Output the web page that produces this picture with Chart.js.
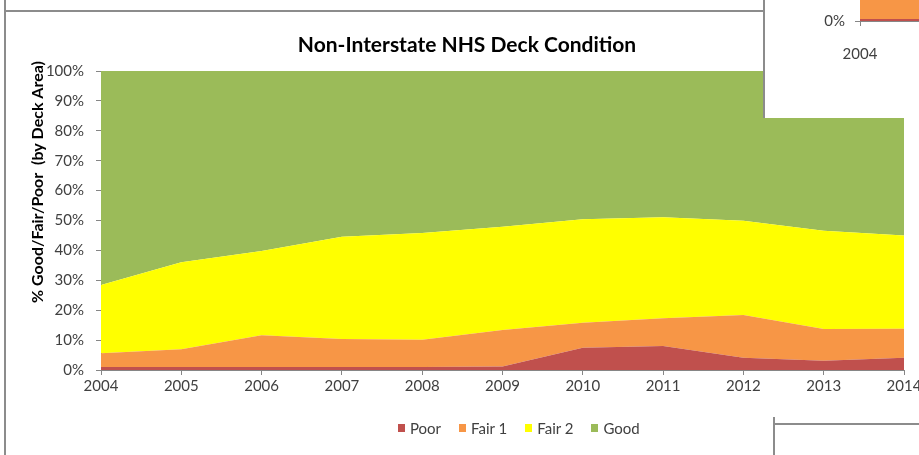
<!DOCTYPE html>
<html>
<head>
<meta charset="utf-8">
<title>Non-Interstate NHS Deck Condition</title>
<script src="https://cdn.jsdelivr.net/npm/chart.js@4"></script>
<style>
  html, body { margin: 0; padding: 0; background: #fff; overflow: hidden; }
  #page { position: relative; width: 919px; height: 455px; overflow: hidden; font-family: Lato, sans-serif; }
  #deckChart { position: absolute; left: 0; top: 0; }
  .rule { position: absolute; background: #8c8c8c; }
  #insetBox { position: absolute; left: 763px; top: 0; width: 156px; height: 118px; background: #fff;
              border-left: 2px solid #8c8c8c; overflow: hidden; }
  #insetChart { position: absolute; left: 0; top: -300px; }
  #cornerBox { position: absolute; left: 773px; top: 423px; width: 146px; height: 32px; background: #fff;
               border-top: 2px solid #8c8c8c; }
  #legend { position: absolute; left: 398px; top: 419px; display: flex; align-items: center;
            font-size: 15px; line-height: 18px; color: #404040; white-space: nowrap; }
  #legend .item { display: flex; align-items: center; margin-right: 18px; }
  #legend .swatch { width: 7px; height: 8px; margin-right: 5px; }
</style>
</head>
<body>
<div id="page">
  <canvas id="deckChart" width="940" height="455"></canvas>
  <div class="rule" style="left:4px; top:0; width:2px; height:455px;"></div>
  <div class="rule" style="left:5px; top:10px; width:758px; height:2px;"></div>
  <div id="legend"></div>
  <div id="insetBox"><canvas id="insetChart" width="300" height="418"></canvas></div>
  <div id="cornerBox"></div>
  <div class="rule" style="left:773px; top:417px; width:2px; height:38px;"></div>
</div>
<script>
// Share of deck area per condition class, percent of total
const years = ['2004', '2005', '2006', '2007', '2008', '2009', '2010', '2011', '2012', '2013', '2014'];
const poor  = [1.0, 1.0, 1.0, 1.0, 1.0, 1.2, 7.4, 8.0, 4.1, 3.1, 4.1];
const fair1 = [4.6, 5.9, 10.6, 9.4, 9.1, 12.2, 8.4, 9.3, 14.3, 10.6, 9.7];
const fair2 = [22.8, 29.1, 28.2, 34.2, 35.7, 34.5, 34.6, 33.8, 31.5, 32.9, 31.2];
const good  = [71.6, 64.0, 60.2, 55.4, 54.2, 52.1, 49.6, 48.9, 50.1, 53.4, 55.0];
const yTicks = [0, 10, 20, 30, 40, 50, 60, 70, 80, 90, 100];

// neighbouring interstate chart, only its lower-left corner shows
const insetYears = ['2004', '2005'];
const insetPoor  = [0.7, 0.7];
const insetFair1 = [10.0, 10.0];

const chartTitle = 'Non-Interstate NHS Deck Condition';
const yAxisTitle = '% Good/Fair/Poor  (by Deck Area)';

const colors = { poor: '#c0504d', fair1: '#f79646', fair2: '#ffff00', good: '#9bbb59' };
const axisGray = '#868686';
const textGray = '#404040';
const font = 'Lato';

function area(label, data, color, fill) {
    return { label: label, data: data, backgroundColor: color, borderWidth: 0,
             pointRadius: 0, tension: 0, fill: fill };
}

// rotated axis caption, sits a bit above the middle of the axis
const yTitlePlugin = {
    id: 'yTitle',
    afterDraw(chart) {
        const c = chart.ctx;
        c.save();
        c.translate(38, 182);
        c.rotate(-Math.PI / 2);
        c.font = 'bold 16px ' + font;
        c.fillStyle = '#000';
        c.textAlign = 'center';
        c.textBaseline = 'middle';
        c.fillText(yAxisTitle, 0, 0);
        c.restore();
    }
};

const deck = new Chart(document.getElementById('deckChart'), {
    type: 'line',
    data: {
        labels: years,
        datasets: [
            area('Poor', poor, colors.poor, 'origin'),
            area('Fair 1', fair1, colors.fair1, '-1'),
            area('Fair 2', fair2, colors.fair2, '-1'),
            area('Good', good, colors.good, '-1')
        ]
    },
    options: {
        responsive: false,
        animation: false,
        layout: { autoPadding: false, padding: { left: 30, right: 36, top: 0, bottom: 55 } },
        plugins: {
            legend: { display: false },
            tooltip: { enabled: false },
            title: {
                display: true,
                text: chartTitle,
                color: '#000',
                font: { family: font, size: 21, weight: 'bold' },
                padding: { top: 32.4, bottom: 13.4 }
            }
        },
        scales: {
            x: {
                offset: false,
                grid: { drawOnChartArea: false, tickLength: 5, color: axisGray },
                border: { color: axisGray },
                ticks: { color: textGray, font: { family: font, size: 15 }, padding: 2, maxRotation: 0, autoSkip: false },
                afterFit(scale) { scale.height = 30; }
            },
            y: {
                stacked: true,
                min: 0,
                max: 100,
                afterBuildTicks(scale) { scale.ticks = yTicks.map(v => ({ value: v })); },
                grid: { drawOnChartArea: false, tickLength: 5, color: axisGray },
                border: { color: axisGray },
                ticks: { color: textGray, font: { family: font, size: 15 }, padding: 12, callback: v => v + '%' },
                afterFit(scale) { scale.width = 71; }
            }
        }
    },
    plugins: [yTitlePlugin]
});

// legend built from the datasets
const legend = document.getElementById('legend');
deck.data.datasets.forEach(ds => {
    const item = document.createElement('div');
    item.className = 'item';
    const sw = document.createElement('span');
    sw.className = 'swatch';
    sw.style.background = ds.backgroundColor;
    const txt = document.createElement('span');
    txt.textContent = ds.label;
    item.appendChild(sw);
    item.appendChild(txt);
    legend.appendChild(item);
});

new Chart(document.getElementById('insetChart'), {
    type: 'line',
    data: {
        labels: insetYears,
        datasets: [
            area('Poor', insetPoor, colors.poor, 'origin'),
            area('Fair 1', insetFair1, colors.fair1, '-1')
        ]
    },
    options: {
        responsive: false,
        animation: false,
        layout: { autoPadding: false, padding: { left: 0, right: 45, top: 21, bottom: 0 } },
        plugins: { legend: { display: false }, tooltip: { enabled: false } },
        scales: {
            x: {
                offset: false,
                grid: { drawOnChartArea: false, tickLength: 5, color: axisGray },
                border: { color: axisGray },
                ticks: { color: textGray, font: { family: font, size: 15 }, padding: 19, maxRotation: 0 },
                afterFit(scale) { scale.height = 97; }
            },
            y: {
                stacked: true,
                min: 0,
                max: 100,
                grid: { drawOnChartArea: false, tickLength: 5, color: axisGray },
                border: { color: axisGray },
                ticks: { stepSize: 10, color: textGray, font: { family: font, size: 15 }, padding: 10, callback: v => v + '%' },
                afterFit(scale) { scale.width = 95; }
            }
        }
    }
});
</script>
</body>
</html>
